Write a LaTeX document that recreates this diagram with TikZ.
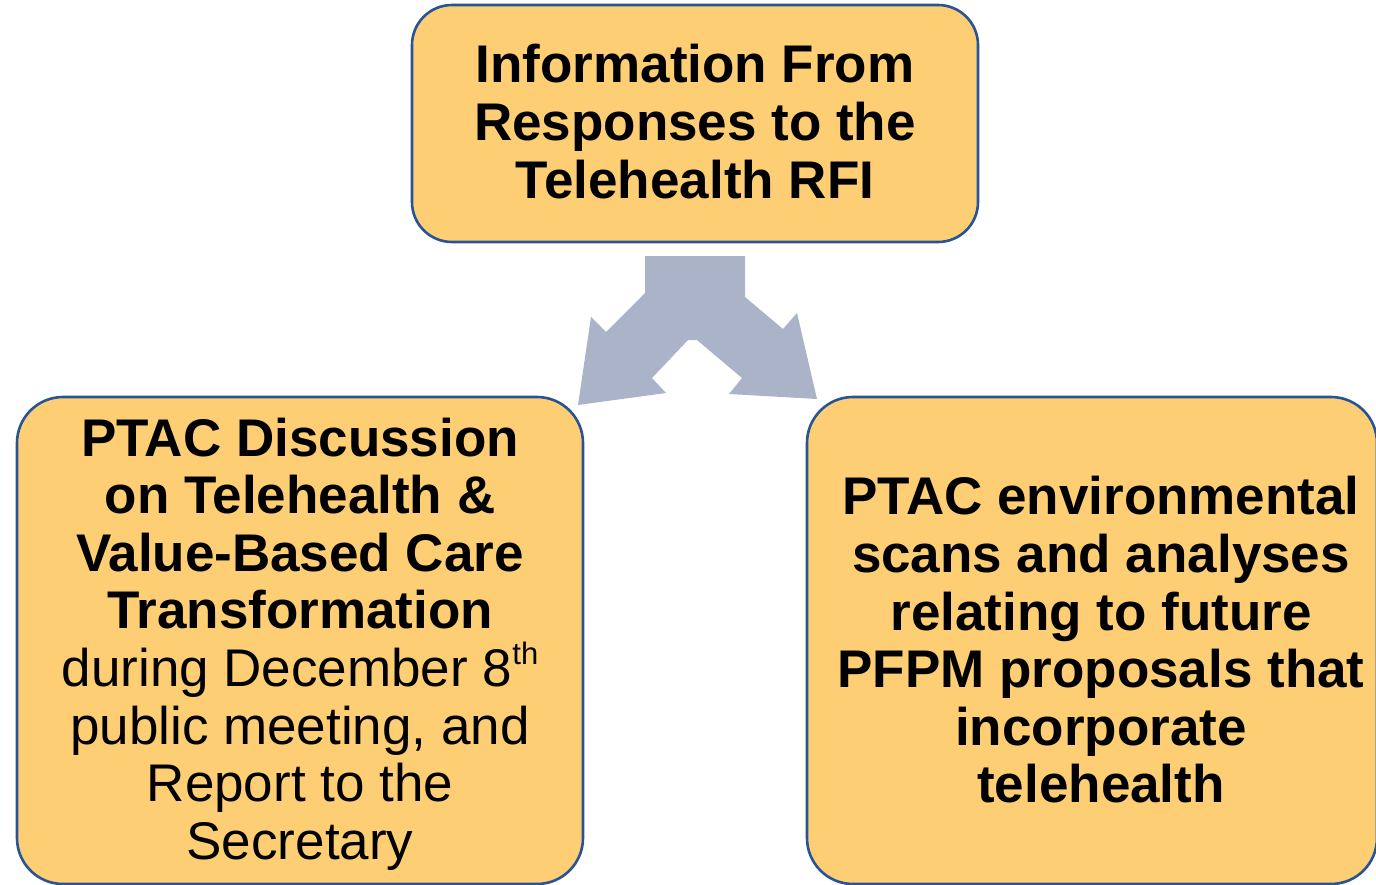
\documentclass[tikz,border=0pt]{standalone}
\usepackage{fontspec}
\setmainfont{Liberation Sans}
\definecolor{boxfill}{RGB}{253,206,116}
\definecolor{boxline}{RGB}{40,84,150}
\definecolor{arrowfill}{RGB}{171,179,200}
\tikzset{
  card/.style={draw=boxline, line width=2.6pt, fill=boxfill, rounded corners=46pt, inner sep=0pt, minimum width=566pt},
  cardtext/.style={align=center, inner sep=0pt, font=\fontsize{53}{57.6}\selectfont, text=black}
}
\begin{document}
\begin{tikzpicture}[x=1pt, y=-1pt]
\useasboundingbox (0,0) rectangle (1376,884);
% boxes
\node[card, minimum height=237pt, rounded corners=40pt] (top) at (695,123.5) {};
\node[card, minimum height=487pt] (left) at (300,640.5) {};
\node[card, minimum height=487pt, minimum width=570pt] (right) at (1092,640.5) {};
% texts
\node[cardtext] (toptext) at (695,121.5) {\textbf{Information From}\\\textbf{Responses to the}\\\textbf{Telehealth RFI}};
\node[cardtext] (lefttext) at (300,644) {\textbf{PTAC Discussion}\\\textbf{on Telehealth \&}\\\textbf{Value-Based Care}\\\textbf{Transformation}\\during December 8\raisebox{22pt}{\fontsize{31}{31}\selectfont th}\\public meeting, and\\Report to the\\Secretary};
\node[cardtext] (righttext) at (1101,640) {\textbf{PTAC environmental}\\\textbf{scans and analyses}\\\textbf{relating to future}\\\textbf{PFPM proposals that}\\\textbf{incorporate}\\\textbf{telehealth}};
% split arrow
\fill[arrowfill] (645,256) -- (745,256) -- (745,297) -- (783,329) -- (797,313) -- (817,399)
  -- (729,394) -- (742,378) -- (697,340) -- (688,340) -- (652,378) -- (666,393)
  -- (578,405) -- (591,317) -- (606,332) -- (645,293) -- cycle;
\end{tikzpicture}
\end{document}
